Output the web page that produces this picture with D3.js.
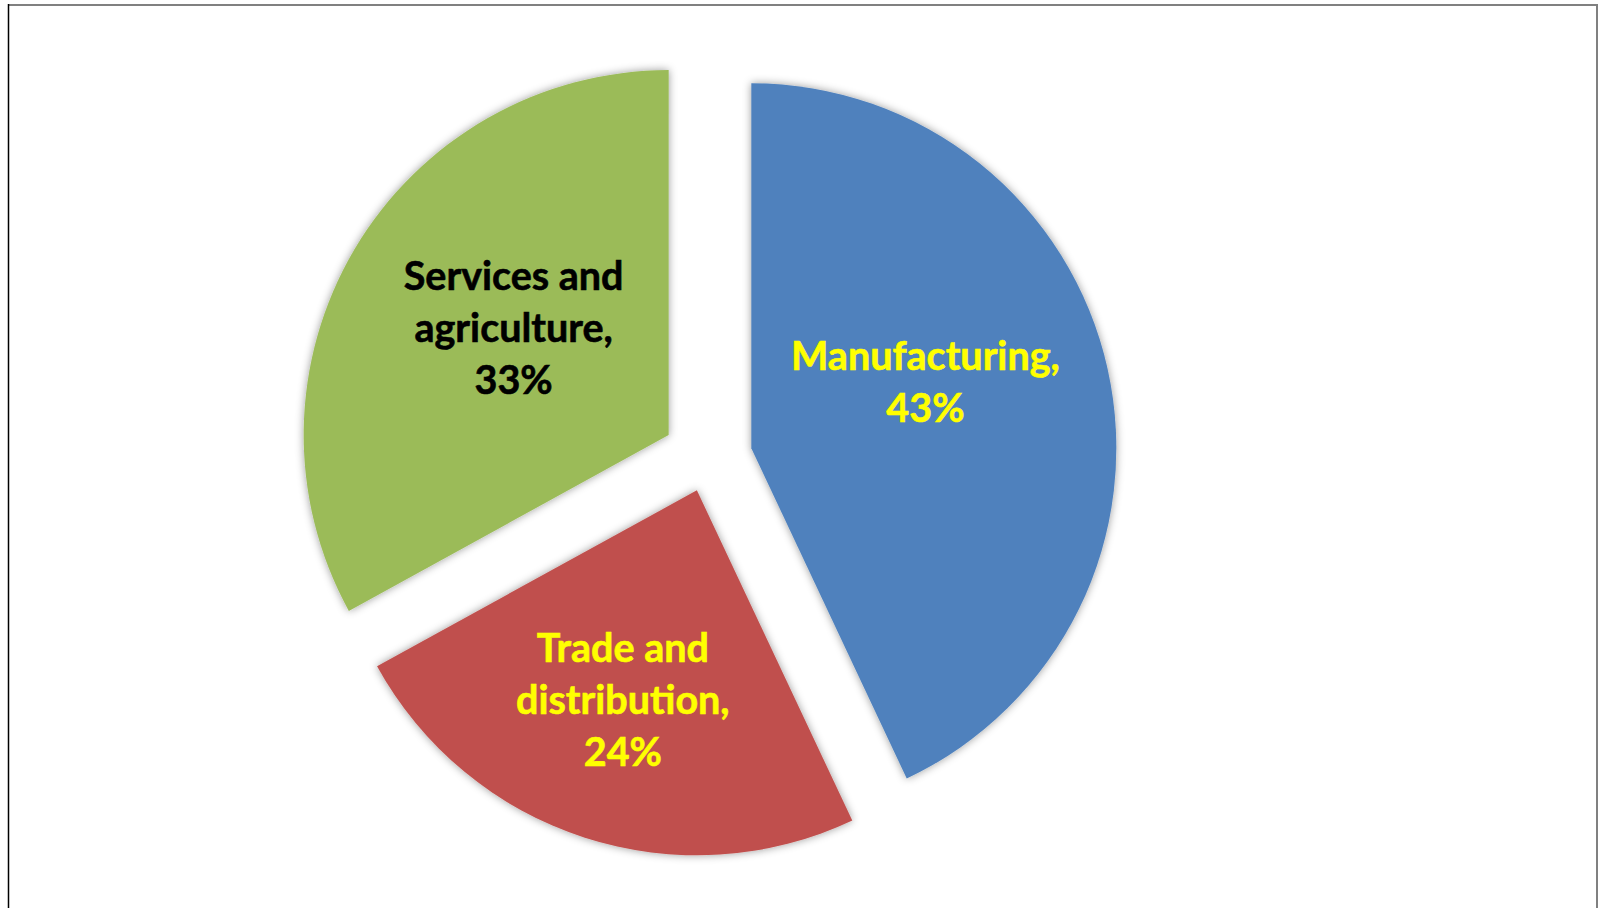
<!DOCTYPE html>
<html>
<head>
<meta charset="utf-8">
<script src="https://cdn.jsdelivr.net/npm/d3@7"></script>
<style>
  html, body { margin: 0; padding: 0; background: #ffffff; }
  svg { display: block; }
</style>
</head>
<body>
<svg id="chart" width="1602" height="908"></svg>
<script>
// Share of activity by sector
const categories = ["Manufacturing", "Trade and distribution", "Services and agriculture"];
const shares = [43, 24, 33];
const labelLines = [
  ["Manufacturing,", "43%"],
  ["Trade and", "distribution,", "24%"],
  ["Services and", "agriculture,", "33%"]
];

// Presentation settings
const sliceColors = ["#4F81BD", "#C0504D", "#9BBB59"];
const labelColors = ["#FFFF00", "#FFFF00", "#000000"];
const explode = [45, 34, 45];               // outward offset per slice, px
const labelRadius = [0.512, 0.605, 0.518];  // fraction of radius from slice apex
const labelAngleShift = [-8.7, 1.6, 4.3];   // degrees relative to slice bisector

const width = 1602, height = 908;
const cx = 707.4, cy = 458, radius = 365;
const fontSize = 39.5, lineHeight = 52, capHeight = 31;

const svg = d3.select("#chart");

// Frame
svg.append("line").attr("x1", 8).attr("y1", 5).attr("x2", 1597).attr("y2", 5)
  .attr("stroke", "#808080").attr("stroke-width", 2);
svg.append("line").attr("x1", 1597).attr("y1", 4).attr("x2", 1597).attr("y2", height)
  .attr("stroke", "#808080").attr("stroke-width", 2);
svg.append("line").attr("x1", 8.5).attr("y1", 4).attr("x2", 8.5).attr("y2", height)
  .attr("stroke", "#000000").attr("stroke-width", 1.5);

// Soft shadow around slices
const defs = svg.append("defs");
const f = defs.append("filter").attr("id", "sliceShadow")
  .attr("x", "-20%").attr("y", "-20%").attr("width", "140%").attr("height", "140%");
f.append("feDropShadow").attr("dx", 0).attr("dy", 0).attr("stdDeviation", 4)
  .attr("flood-color", "#000").attr("flood-opacity", 0.4);

const pie = d3.pie().sort(null).value(d => d);
const arcs = pie(shares);
const arc = d3.arc().innerRadius(0).outerRadius(radius);

const g = svg.append("g").attr("transform", `translate(${cx},${cy})`);

const slices = g.selectAll("g.slice").data(arcs).enter().append("g")
  .attr("class", "slice")
  .attr("transform", (d, i) => {
    const mid = (d.startAngle + d.endAngle) / 2;
    return `translate(${explode[i] * Math.sin(mid)},${-explode[i] * Math.cos(mid)})`;
  });

slices.append("path")
  .attr("d", arc)
  .attr("fill", (d, i) => sliceColors[i])
  .attr("filter", "url(#sliceShadow)");

slices.each(function (d, i) {
  const mid = (d.startAngle + d.endAngle) / 2 + labelAngleShift[i] * Math.PI / 180;
  const rr = labelRadius[i] * radius;
  const lx = rr * Math.sin(mid);
  const ly = -rr * Math.cos(mid);
  const lines = labelLines[i];
  const firstBaseline = ly - (lines.length - 1) * lineHeight / 2 + capHeight / 2;
  const t = d3.select(this).append("text")
    .attr("text-anchor", "middle")
    .attr("font-family", "Lato, 'Open Sans', sans-serif")
    .attr("font-weight", "bold")
    .attr("font-size", fontSize)
    .attr("fill", labelColors[i])
    .attr("stroke", labelColors[i])
    .attr("stroke-width", 0.6);
  lines.forEach((line, k) => {
    t.append("tspan").attr("x", lx).attr("y", firstBaseline + k * lineHeight).text(line);
  });
});
</script>
</body>
</html>
